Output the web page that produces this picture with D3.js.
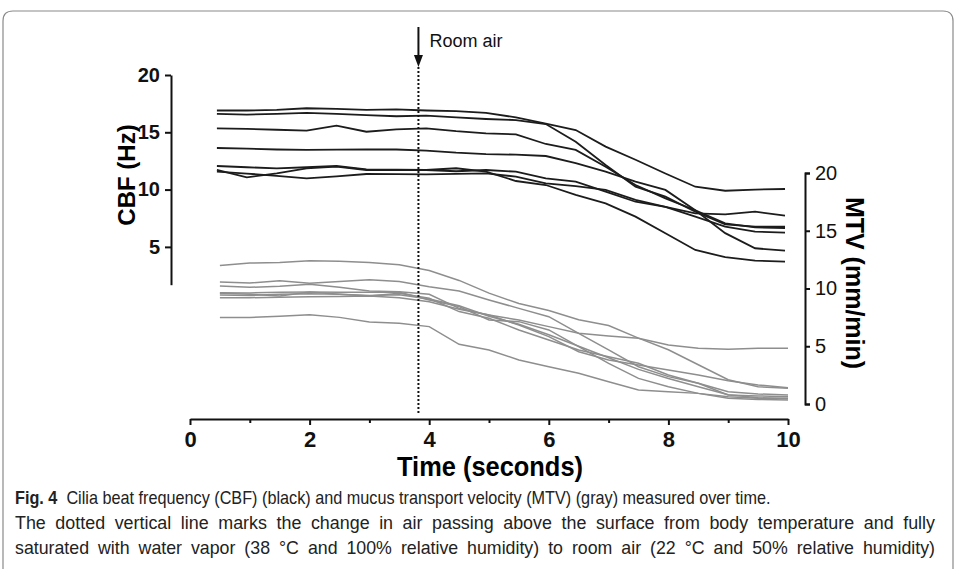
<!DOCTYPE html>
<html>
<head>
<meta charset="UTF-8">
<title>Fig 4 CBF and MTV</title>
<style>
  body { margin: 0; background: #fff; }
  svg { display: block; }
  .axis path, .axis line { stroke: #111; stroke-width: 2; }
  .caption { font-family: "Liberation Sans", Arial, sans-serif; font-size: 18.5px; fill: #222; }
</style>
</head>
<body>
<svg></svg>
<script src="https://d3js.org/d3.v7.min.js"></script>
<script>
// time points (seconds)
const cbfTime = [0.45, 0.95, 1.45, 1.95, 2.45, 2.95, 3.45, 3.95, 4.45, 4.95,
                 5.45, 5.95, 6.45, 6.95, 7.45, 7.95, 8.45, 8.95, 9.45, 9.95];
const mtvTime = [0.5, 1, 1.5, 2, 2.5, 3, 3.5, 4, 4.5, 5,
                 5.5, 6, 6.5, 7, 7.5, 8, 8.5, 9, 9.5, 10];

// CBF (Hz), black lines
const cbf1 = [16.9, 16.9, 16.95, 17.1, 17.05, 16.95, 17.0, 16.9, 16.85, 16.7, 16.3, 15.75, 15.2, 13.75, 12.6, 11.4, 10.25, 9.9, 10.0, 10.05];
const cbf2 = [16.6, 16.55, 16.6, 16.7, 16.6, 16.5, 16.4, 16.45, 16.3, 16.16, 16.07, 15.72, 14.18, 12.15, 10.25, 9.38, 8.07, 6.97, 6.77, 6.77];
const cbf3 = [15.35, 15.3, 15.22, 15.14, 15.58, 15.05, 15.26, 15.35, 15.1, 14.91, 14.82, 13.98, 13.46, 12.0, 10.4, 9.24, 8.2, 7.06, 6.7, 6.65];
const cbf4 = [13.63, 13.58, 13.5, 13.46, 13.48, 13.5, 13.5, 13.4, 13.22, 13.1, 13.05, 12.93, 12.3, 11.56, 10.7, 9.97, 8.2, 6.2, 4.88, 4.67];
const cbf5 = [12.06, 11.95, 11.86, 11.95, 12.06, 11.77, 11.75, 11.71, 11.86, 11.56, 10.75, 10.4, 9.53, 8.8, 7.64, 6.19, 4.73, 4.1, 3.8, 3.71];
const cbf6 = [11.71, 11.07, 11.42, 11.86, 12.0, 11.71, 11.71, 11.71, 11.6, 11.71, 11.56, 10.98, 10.69, 9.82, 8.94, 8.5, 7.93, 7.84, 8.07, 7.72];
const cbf7 = [11.56, 11.4, 11.2, 10.98, 11.15, 11.36, 11.35, 11.33, 11.38, 11.42, 11.13, 10.55, 10.31, 9.97, 9.1, 8.5, 7.64, 6.77, 6.33, 6.24];

// MTV (mm/min), gray lines
const mtv1 = [12.0, 12.2, 12.25, 12.4, 12.35, 12.25, 12.05, 11.55, 10.7, 9.6, 8.7, 8.1, 7.3, 6.8, 5.7, 4.7, 3.4, 2.1, 1.5, 1.36];
const mtv2 = [10.56, 10.48, 10.68, 10.45, 10.6, 10.76, 10.6, 10.16, 9.78, 9.0, 8.28, 7.56, 6.12, 4.68, 3.23, 2.37, 1.79, 0.78, 0.7, 0.63];
const mtv3 = [10.22, 10.1, 10.2, 10.36, 10.1, 9.78, 9.72, 9.5, 8.28, 7.71, 7.27, 6.7, 6.12, 5.89, 5.69, 5.11, 4.82, 4.73, 4.82, 4.82];
const mtv4 = [9.64, 9.62, 9.68, 9.7, 9.68, 9.67, 9.67, 9.0, 8.43, 7.27, 7.13, 6.41, 4.96, 3.52, 2.22, 1.5, 0.92, 0.63, 0.49, 0.49];
const mtv5 = [9.58, 9.5, 9.35, 9.7, 9.5, 9.35, 9.58, 9.15, 8.0, 7.42, 6.41, 5.54, 4.68, 4.1, 3.52, 2.51, 1.79, 1.07, 0.87, 0.78];
const mtv6 = [9.2, 9.2, 9.25, 9.29, 9.3, 9.35, 9.2, 8.86, 8.2, 7.71, 6.84, 5.83, 4.53, 3.81, 3.38, 2.94, 2.51, 2.02, 1.65, 1.4];
const mtv7 = [9.44, 9.4, 9.5, 9.55, 9.5, 9.4, 9.45, 9.1, 8.5, 7.6, 6.9, 6.0, 5.0, 4.0, 3.0, 2.2, 1.5, 0.8, 0.55, 0.45];
const mtv8 = [7.5, 7.5, 7.6, 7.73, 7.5, 7.1, 7.0, 6.7, 5.17, 4.68, 3.81, 3.23, 2.66, 1.93, 1.21, 1.07, 0.92, 0.49, 0.4, 0.35];

const cbfSeries = [cbf1, cbf2, cbf3, cbf4, cbf5, cbf6, cbf7];
const mtvSeries = [mtv1, mtv2, mtv3, mtv4, mtv5, mtv6, mtv7, mtv8];

// ticks
const xMajor = [0, 2, 4, 6, 8, 10];
const xMinor = [1, 3, 5, 7, 9];
const cbfTicks = [5, 10, 15, 20];
const mtvTicks = [0, 5, 10, 15, 20];
const switchTime = 3.82;

const captionLines = [
  "Cilia beat frequency (CBF) (black) and mucus transport velocity (MTV) (gray) measured over time.",
  "The dotted vertical line marks the change in air passing above the surface from body temperature and fully",
  "saturated with water vapor (38 °C and 100% relative humidity) to room air (22 °C and 50% relative humidity)"
];

let width = 956, height = 569;
let svg = d3.select("svg").attr("width", width).attr("height", height);
const sans = "'Liberation Sans', Arial, sans-serif";

// frame
svg.append("path")
  .attr("d", "M3,569 L3,21 Q3,11 13,11 L943,11 Q953,11 953,21 L953,569")
  .attr("fill", "none").attr("stroke", "#8a8a8a").attr("stroke-width", 1.2);

// scales
const x = d3.scaleLinear().domain([0, 10]).range([190, 788]);
const yL = d3.scaleLinear().domain([1.7, 20]).range([284.7, 75]);
const yR = d3.scaleLinear().domain([0, 20]).range([404, 173]);

// lines
const lineCbf = d3.line().x((d, i) => x(cbfTime[i])).y(d => yL(d));
const lineMtv = d3.line().x((d, i) => x(mtvTime[i])).y(d => yR(d));

svg.append("g").selectAll("path")
  .data(mtvSeries).enter().append("path")
  .attr("d", lineMtv)
  .attr("fill", "none").attr("stroke", "#8e8e8e").attr("stroke-width", 1.5);

svg.append("g").selectAll("path")
  .data(cbfSeries).enter().append("path")
  .attr("d", lineCbf)
  .attr("fill", "none").attr("stroke", "#1c1c1c").attr("stroke-width", 1.8);

// x axis
let gx = svg.append("g").attr("class", "axis").attr("transform", "translate(0,419)")
  .call(d3.axisBottom(x).tickValues(xMajor).tickSize(6).tickSizeOuter(0).tickPadding(6).tickFormat(d3.format("d")));
gx.selectAll("text")
  .style("font-family", sans)
  .style("font-weight", "bold").style("font-size", "22px").attr("fill", "#111");
svg.append("g").attr("class", "axis").attr("transform", "translate(0,419)")
  .call(d3.axisBottom(x).tickValues(xMinor).tickSize(4).tickFormat(""))
  .select(".domain").remove();

// left axis
let gl = svg.append("g").attr("class", "axis").attr("transform", "translate(171,0)")
  .call(d3.axisLeft(yL).tickValues(cbfTicks).tickSize(6).tickSizeOuter(0).tickPadding(5));
gl.selectAll("text")
  .style("font-family", sans)
  .style("font-weight", "bold").style("font-size", "20px").attr("fill", "#111");

// right axis
let gr = svg.append("g").attr("class", "axis").attr("transform", "translate(805,0)")
  .call(d3.axisRight(yR).tickValues(mtvTicks).tickSize(5).tickSizeOuter(5).tickPadding(5));
gr.selectAll("text")
  .style("font-family", sans)
  .style("font-size", "20px").attr("fill", "#111");

// axis titles
svg.append("text")
  .attr("transform", "translate(135,175) rotate(-90)")
  .attr("text-anchor", "middle")
  .style("font-family", sans)
  .style("font-weight", "bold").style("font-size", "24px")
  .text("CBF (Hz)");

svg.append("text")
  .attr("transform", "translate(846,283) rotate(90)")
  .attr("text-anchor", "middle")
  .style("font-family", sans)
  .style("font-weight", "bold").style("font-size", "25px")
  .text("MTV (mm/min)");

svg.append("text")
  .attr("x", 490).attr("y", 476)
  .attr("text-anchor", "middle")
  .attr("textLength", 186).attr("lengthAdjust", "spacingAndGlyphs")
  .style("font-family", sans)
  .style("font-weight", "bold").style("font-size", "27px")
  .text("Time (seconds)");

// dotted switch line + arrow
svg.append("line")
  .attr("x1", x(switchTime)).attr("x2", x(switchTime))
  .attr("y1", 67).attr("y2", 415)
  .attr("stroke", "#111").attr("stroke-width", 2).attr("stroke-dasharray", "2,2");
svg.append("line")
  .attr("x1", x(switchTime)).attr("x2", x(switchTime))
  .attr("y1", 27).attr("y2", 58)
  .attr("stroke", "#111").attr("stroke-width", 2);
svg.append("path")
  .attr("d", d3.line()([[x(switchTime) - 4.5, 55], [x(switchTime) + 4.5, 55], [x(switchTime), 67]]) + "Z")
  .attr("fill", "#111");
svg.append("text")
  .attr("x", x(switchTime) + 11).attr("y", 47)
  .style("font-family", sans)
  .style("font-size", "18px").attr("fill", "#111")
  .text("Room air");

// caption: first line squeezed to its printed width; lines 2 and 3 take a
// squeeze halfway between that and their own fit, rest goes into word gaps
const squeezeAt15 = s => `translate(15,0) scale(${s},1) translate(-15,0)`;
let cap = svg.append("g").attr("class", "caption");
let t1 = cap.append("text").attr("x", 15).attr("y", 504);
t1.append("tspan").style("font-weight", "bold").text("Fig. 4");
t1.append("tspan").text("\u00a0\u00a0" + captionLines[0]);
let squeeze1 = 756 / t1.node().getComputedTextLength();
t1.attr("transform", squeezeAt15(squeeze1));

[captionLines[1], captionLines[2]].forEach((s, i) => {
  let t = cap.append("text").attr("y", 529 + i * 25);
  let words = s.split(" ");
  let spans = words.map(w => t.append("tspan").text(w));
  let widths = spans.map(sp => sp.node().getComputedTextLength());
  let natural = d3.sum(widths) + (words.length - 1) * 5.1;
  let sq = (squeeze1 + 920 / natural) / 2;
  let gap = (920 / sq - d3.sum(widths)) / (words.length - 1);
  let pos = 15;
  spans.forEach((sp, k) => {
    sp.attr("x", pos);
    pos += widths[k] + gap;
  });
  t.attr("transform", squeezeAt15(sq));
});
</script>
</body>
</html>
